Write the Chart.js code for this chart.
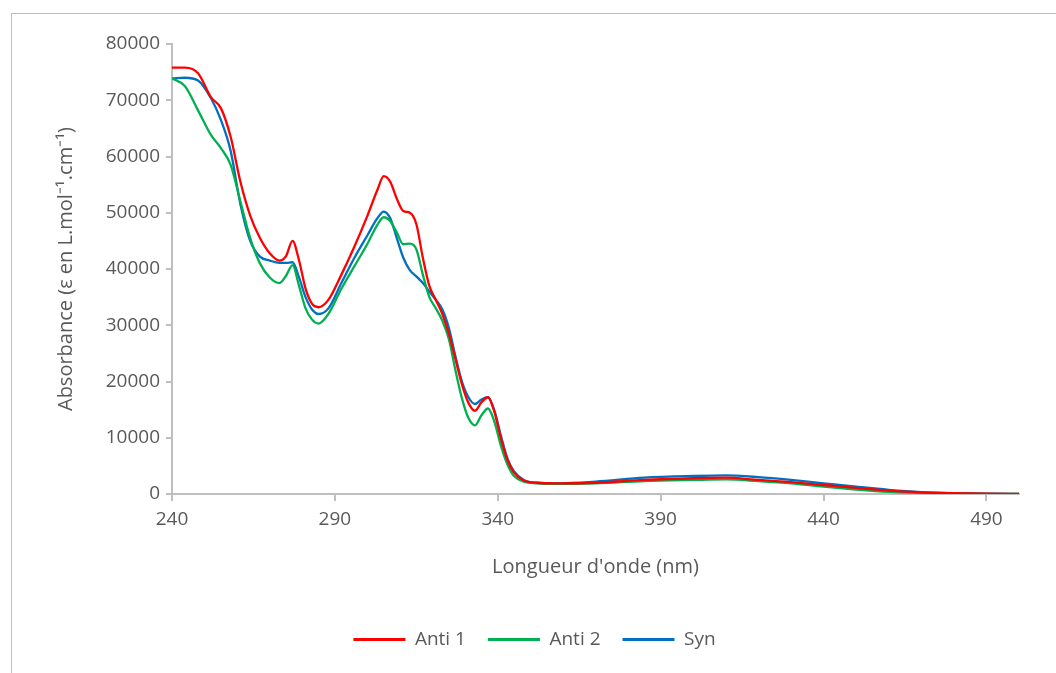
<!DOCTYPE html>
<html>
<head>
<meta charset="utf-8">
<script src="https://cdn.jsdelivr.net/npm/chart.js@4/dist/chart.umd.min.js"></script>
<style>
  html, body { margin: 0; padding: 0; background: #fff; }
  #frame { position: absolute; left: 11px; top: 13px; width: 1050px; height: 670px; border: 1px solid #bfbfbf; box-sizing: border-box; }
  #wrap { position: absolute; left: 0; top: 0; width: 1056px; height: 673px; }
</style>
</head>
<body>
<div id="frame"></div>
<div id="wrap"><canvas id="chart"></canvas></div>
<script>
// wavelengths (nm)
const wavelengths = [240, 244, 248, 252, 255, 258, 261, 264, 267, 270, 273, 275, 277, 279, 281, 283, 285, 288, 292, 296, 300, 303, 305, 307, 309, 311, 313, 315, 317, 319, 321, 323, 325, 327, 329, 331, 333, 335, 337, 339, 341, 343, 345, 348, 352, 358, 370, 385, 400, 410, 420, 430, 440, 450, 460, 470, 480, 490, 500];

const anti1 = [75800, 75800, 74800, 70500, 68600, 63500, 55500, 49500, 45500, 42800, 41500, 42300, 45000, 41500, 36500, 33800, 33200, 34500, 39000, 44000, 49500, 54000, 56500, 55500, 52500, 50300, 50000, 48000, 42000, 37000, 34500, 32000, 28500, 24000, 19500, 16200, 14800, 16300, 17200, 14500, 9800, 6000, 3800, 2400, 2000, 1900, 2000, 2500, 2800, 2900, 2500, 2100, 1600, 1100, 600, 300, 150, 50, 0];

const anti2 = [73900, 72500, 68200, 63800, 61500, 58500, 52000, 45500, 41000, 38500, 37500, 38800, 40700, 37000, 33000, 31000, 30300, 32000, 36500, 40500, 44500, 47800, 49200, 48500, 46500, 44400, 44500, 43500, 39000, 35000, 33000, 30800, 27500, 22000, 17000, 13500, 12200, 14000, 15200, 12800, 8500, 5200, 3200, 2200, 1900, 1800, 1900, 2300, 2500, 2600, 2300, 1900, 1300, 800, 400, 200, 80, 20, 0];

const syn = [73900, 74000, 73500, 70300, 66500, 61000, 51500, 45000, 42200, 41500, 41100, 41100, 41200, 38500, 35000, 32800, 32000, 33000, 37500, 42000, 46000, 49000, 50200, 49000, 45500, 42000, 39800, 38700, 37500, 36000, 34500, 32800, 29500, 24500, 20000, 17200, 16000, 16800, 17200, 14800, 10300, 6300, 4000, 2500, 2000, 1900, 2200, 2900, 3200, 3300, 3000, 2500, 1900, 1300, 750, 350, 150, 50, 0];

const xTicks = [240, 290, 340, 390, 440, 490];
const yTicks = [0, 10000, 20000, 30000, 40000, 50000, 60000, 70000, 80000];

const textColor = "#595959";
const axisColor = "#bfbfbf";
const font = "Open Sans";

function points(values) {
  return wavelengths.map((x, i) => ({ x: x, y: values[i] }));
}

function series(label, values, color) {
  return {
    label: label,
    data: points(values),
    borderColor: color,
    backgroundColor: color,
    borderWidth: 2.3,
    pointRadius: 0,
    cubicInterpolationMode: "monotone",
    fill: false
  };
}

new Chart(document.getElementById("chart"), {
  type: "line",
  data: {
    datasets: [
      series("Anti 1", anti1, "#ff0000"),
      series("Anti 2", anti2, "#00b050"),
      series("Syn", syn, "#0070c0")
    ]
  },
  options: {
    responsive: true,
    maintainAspectRatio: false,
    animation: false,
    layout: { padding: { left: 50, right: 37, top: 44, bottom: 14 } },
    plugins: {
      tooltip: { enabled: false },
      legend: {
        position: "bottom",
        labels: {
          color: textColor,
          font: { family: font, size: 19 },
          boxWidth: 52,
          boxHeight: 3,
          padding: 22,
          generateLabels: (chart) =>
            Chart.defaults.plugins.legend.labels.generateLabels(chart).map(l => ({ ...l, lineWidth: 0 }))
        }
      }
    },
    scales: {
      x: {
        type: "linear",
        min: 240,
        max: 500,
        afterBuildTicks: (scale) => { scale.ticks = xTicks.map(v => ({ value: v })); },
        afterFit: (scale) => { scale.height = 114; },
        border: { color: axisColor, width: 2 },
        grid: { drawOnChartArea: false, color: axisColor, tickLength: 7, lineWidth: 2 },
        ticks: { color: textColor, font: { family: font, size: 19 }, padding: 7, maxRotation: 0 },
        title: { display: true, text: "Longueur d'onde (nm)", color: textColor, font: { family: font, size: 20 }, padding: { top: 4, bottom: 29 } }
      },
      y: {
        min: 0,
        max: 80000,
        afterBuildTicks: (scale) => { scale.ticks = yTicks.map(v => ({ value: v })); },
        afterFit: (scale) => { scale.width = 122; },
        border: { color: axisColor, width: 2 },
        grid: { drawOnChartArea: false, color: axisColor, tickLength: 6, lineWidth: 2 },
        ticks: { color: textColor, font: { family: font, size: 19 }, padding: 6, callback: (v) => String(v) },
        title: { display: true, text: "Absorbance (ε en L.mol⁻¹.cm⁻¹)", color: textColor, font: { family: font, size: 20 }, padding: { bottom: 4 } }
      }
    }
  }
});
</script>
</body>
</html>
